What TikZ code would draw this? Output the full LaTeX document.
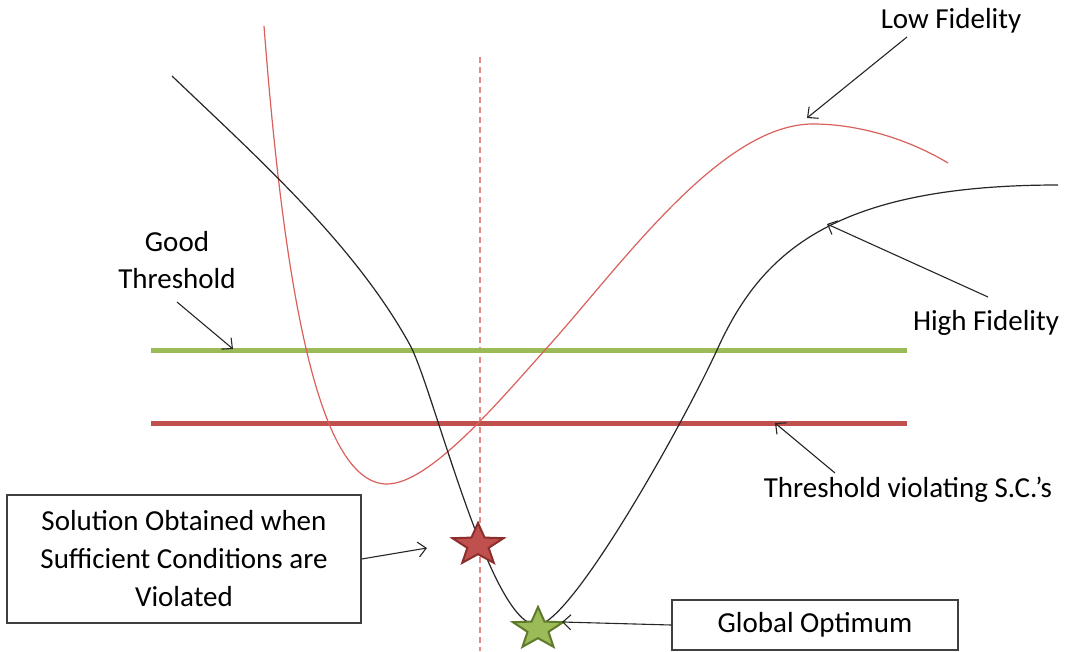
\documentclass[tikz,border=0pt]{standalone}
\usepackage{fontspec}
\setmainfont{Carlito}
\usetikzlibrary{shapes.geometric,arrows.meta}
\definecolor{ggreen}{HTML}{9BBB59}
\definecolor{gred}{HTML}{C0504D}
\definecolor{lfred}{HTML}{D9605B}
\definecolor{dashred}{HTML}{E58A86}
\definecolor{sgreenb}{HTML}{5E7A2A}
\definecolor{sredb}{HTML}{8C2F2C}
\tikzset{
  txt/.style={font=\fontsize{29}{37}\selectfont, align=center, inner sep=0pt},
  box/.style={draw=black!75, line width=1.3pt, fill=white, font=\fontsize{29}{38}\selectfont, align=center, inner sep=0pt},
  arr/.style={draw=black!85, line width=1.1pt, -{Straight Barb[length=8pt,width=15pt,line width=1.1pt]}},
  hline/.style={line width=5pt},
  curve/.style={line width=1.2pt},
  starshape/.style={star, star points=5, star point ratio=2.4, minimum size=44pt, inner sep=0pt, line width=2pt, transform shape}
}
\begin{document}
\begin{tikzpicture}[x=1pt,y=-1pt]
\useasboundingbox (0,0) rectangle (1068,651);
% dashed vertical
\coordinate (dtop) at (480,57);
\coordinate (dbot) at (480,651);
\draw[dashred, line width=1.3pt, dash pattern=on 6pt off 4pt] (dtop) -- (dbot);
% threshold lines
\coordinate (g1) at (151,350); \coordinate (g2) at (907,350);
\coordinate (r1) at (151,423); \coordinate (r2) at (907,423);
\draw[ggreen, hline] (g1) -- (g2);
\draw[gred, hline] (r1) -- (r2);
% low fidelity curve
\draw[lfred, curve] (264,26) .. controls (285,300) and (320,484) .. (387,484)
  .. controls (430,484) and (500,400) .. (545,350)
  .. controls (620,267) and (720,124) .. (813,124)
  .. controls (860,124) and (910,140) .. (948,163);
% high fidelity curve
\draw[black!85, curve] (172,76) .. controls (260,160) and (355,245) .. (410,345)
  .. controls (433,387) and (490,625) .. (537,625)
  .. controls (570,625) and (680,430) .. (717,350)
  .. controls (760,255) and (830,185) .. (1058,185);
% stars
\begin{scope}[shift={(478,545)}, xscale=1.22]
  \node[starshape, draw=sredb, fill=gred] (rstar) at (0,0) {};
\end{scope}
\begin{scope}[shift={(538,629)}, xscale=1.2]
  \node[starshape, draw=sgreenb, fill=ggreen] (gstar) at (0,0) {};
\end{scope}
% labels
\node[txt] (low) at (951,21) {Low Fidelity};
\node[txt] (high) at (986,323) {High Fidelity};
\node[txt] (good) at (177,260) {Good\\Threshold};
\node[txt] (viol) at (908,490) {Threshold violating S.C.’s};
\node[box, minimum width=354pt, minimum height=128pt] (sol) at (184,559) {Solution Obtained when\\Sufficient Conditions are\\Violated};
\node[box, minimum width=286pt, minimum height=50pt] (glob) at (815,625) {Global Optimum};
% arrows
\coordinate (lowS) at (907,37); \coordinate (lowT) at (807,118);
\coordinate (highS) at (988,297); \coordinate (highT) at (827,224);
\coordinate (goodS) at (177,302); \coordinate (goodT) at (233,349);
\coordinate (violS) at (835,473); \coordinate (violT) at (775,423);
\coordinate (solT) at (427,548);
\coordinate (globT) at (562,622);
\draw[arr] (lowS) -- (lowT);
\draw[arr] (highS) -- (highT);
\draw[arr] (goodS) -- (goodT);
\draw[arr] (violS) -- (violT);
\draw[arr] (sol.east) -- (solT);
\draw[arr] (glob.west) -- (globT);
\end{tikzpicture}
\end{document}
